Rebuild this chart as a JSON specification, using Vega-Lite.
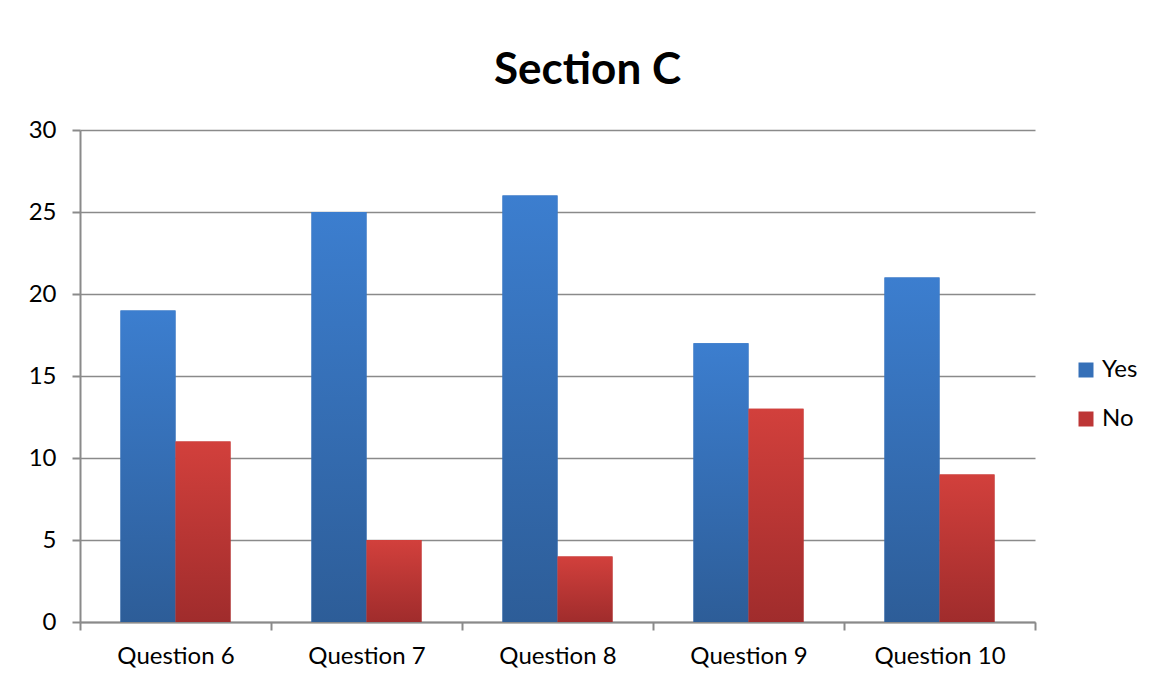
{
  "$schema": "https://vega.github.io/schema/vega-lite/v6.json",
  "autosize": {"type": "none"},
  "padding": {"left": 80, "top": 130, "right": 116, "bottom": 57},
  "width": 955,
  "height": 492,
  "background": "white",
  "title": {
    "text": "Section C",
    "font": "Lato",
    "fontSize": 44,
    "fontWeight": "bold",
    "color": "#000000",
    "anchor": "middle",
    "dx": 30,
    "offset": 25
  },
  "data": {
    "values": [
      {"question": "Question 6", "series": "Yes", "count": 19},
      {"question": "Question 6", "series": "No", "count": 11},
      {"question": "Question 7", "series": "Yes", "count": 25},
      {"question": "Question 7", "series": "No", "count": 5},
      {"question": "Question 8", "series": "Yes", "count": 26},
      {"question": "Question 8", "series": "No", "count": 4},
      {"question": "Question 9", "series": "Yes", "count": 17},
      {"question": "Question 9", "series": "No", "count": 13},
      {"question": "Question 10", "series": "Yes", "count": 21},
      {"question": "Question 10", "series": "No", "count": 9}
    ]
  },
  "encoding": {
    "x": {
      "field": "question",
      "type": "nominal",
      "sort": ["Question 6", "Question 7", "Question 8", "Question 9", "Question 10"],
      "scale": {"paddingInner": 0, "paddingOuter": 0},
      "axis": {
        "title": null,
        "labelAngle": 0,
        "tickBand": "extent",
        "labelFont": "Lato",
        "labelFontSize": 24,
        "labelColor": "#000000",
        "labelPadding": 14,
        "domainColor": "#8a8a8a",
        "domainWidth": 2,
        "tickColor": "#8a8a8a",
        "tickWidth": 2,
        "tickSize": 8,
        "grid": false
      }
    },
    "xOffset": {
      "field": "series",
      "type": "nominal",
      "sort": ["Yes", "No"],
      "scale": {"paddingInner": 0, "paddingOuter": 0.736}
    },
    "y": {
      "field": "count",
      "type": "quantitative",
      "scale": {"domain": [0, 30]},
      "axis": {
        "title": null,
        "values": [0, 5, 10, 15, 20, 25, 30],
        "labelFont": "Lato",
        "labelFontSize": 24,
        "labelColor": "#000000",
        "labelPadding": 16,
        "domainColor": "#8a8a8a",
        "domainWidth": 2,
        "tickColor": "#8a8a8a",
        "tickWidth": 2,
        "tickSize": 8,
        "grid": true,
        "gridColor": "#8a8a8a",
        "gridWidth": 1.5
      }
    }
  },
  "layer": [
    {
      "mark": {"type": "bar"},
      "encoding": {
        "color": {
          "field": "series",
          "type": "nominal",
          "sort": ["Yes", "No"],
          "scale": {"domain": ["Yes", "No"], "range": ["#3670b8", "#bd3636"]},
          "legend": {
            "title": null,
            "orient": "none",
            "legendX": 994,
            "legendY": 228,
            "symbolType": "square",
            "symbolSize": 225,
            "symbolStrokeWidth": 0,
            "labelFont": "Lato",
            "labelFontSize": 24,
            "labelColor": "#000000",
            "labelOffset": 4,
            "rowPadding": 25
          }
        }
      }
    },
    {
      "transform": [{"filter": "datum.series === 'Yes'"}],
      "mark": {
        "type": "bar",
        "color": {
          "gradient": "linear",
          "x1": 0, "y1": 0, "x2": 0, "y2": 1,
          "stops": [
            {"offset": 0, "color": "#3c7ecf"},
            {"offset": 1, "color": "#2d5d98"}
          ]
        }
      },
      "encoding": {}
    },
    {
      "transform": [{"filter": "datum.series === 'No'"}],
      "mark": {
        "type": "bar",
        "color": {
          "gradient": "linear",
          "x1": 0, "y1": 0, "x2": 0, "y2": 1,
          "stops": [
            {"offset": 0, "color": "#d2403c"},
            {"offset": 1, "color": "#a02c2c"}
          ]
        }
      },
      "encoding": {}
    }
  ],
  "config": {"view": {"stroke": null}}
}
